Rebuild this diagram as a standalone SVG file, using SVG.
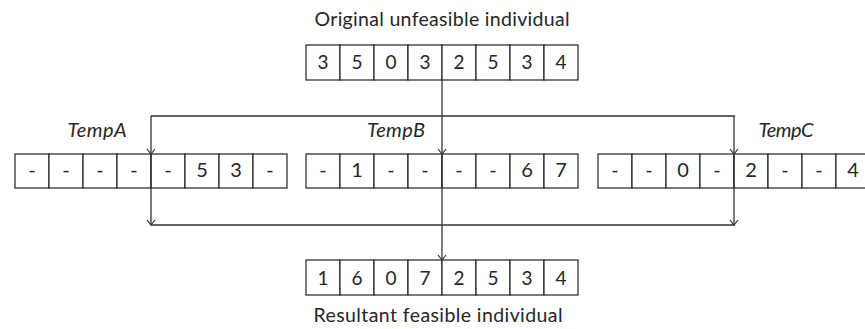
<svg xmlns="http://www.w3.org/2000/svg" width="865" height="329" viewBox="0 0 865 329">
<style>
.cell{fill:#fff;stroke:#222;stroke-width:1.2}
.d{font-family:Lato,"Open Sans",sans-serif;font-size:19px;fill:#262626;text-anchor:middle}
.dt{font-family:Lato,"Open Sans",sans-serif;font-size:20px;fill:#262626;text-anchor:middle}
.lbl{font-family:Lato,"Open Sans",sans-serif;font-size:19.5px;fill:#262626;text-anchor:middle}
.it{font-family:Lato,"Open Sans",sans-serif;font-size:20px;font-style:italic;fill:#262626;text-anchor:middle}
.con{fill:none;stroke:#333;stroke-width:1.3}
</style>
<defs>
<marker id="ah" markerUnits="userSpaceOnUse" markerWidth="8" markerHeight="12" refX="6" refY="5" orient="auto" viewBox="0 0 8 10">
<path d="M1,1 L6,5 L1,9" fill="none" stroke="#333" stroke-width="1.2"/>
</marker>
</defs>
<rect width="865" height="329" fill="#fff"/>
<text class="lbl" x="442" y="26" textLength="255">Original unfeasible individual</text>
<g id="original">
<rect class="cell" x="306" y="45" width="34" height="35"/><rect class="cell" x="340" y="45" width="34" height="35"/><rect class="cell" x="374" y="45" width="34" height="35"/><rect class="cell" x="408" y="45" width="34" height="35"/><rect class="cell" x="442" y="45" width="34" height="35"/><rect class="cell" x="476" y="45" width="34" height="35"/><rect class="cell" x="510" y="45" width="34" height="35"/><rect class="cell" x="544" y="45" width="34" height="35"/>
<text class="d" x="323" y="69">3</text><text class="d" x="357" y="69">5</text><text class="d" x="391" y="69">0</text><text class="d" x="425" y="69">3</text><text class="d" x="459" y="69">2</text><text class="d" x="493" y="69">5</text><text class="d" x="527" y="69">3</text><text class="d" x="561" y="69">4</text>
</g>
<g id="tempA">
<text class="it" x="97" y="137" textLength="59">TempA</text>
<rect class="cell" x="15" y="154" width="34" height="34"/><rect class="cell" x="49" y="154" width="34" height="34"/><rect class="cell" x="83" y="154" width="34" height="34"/><rect class="cell" x="117" y="154" width="34" height="34"/><rect class="cell" x="151" y="154" width="34" height="34"/><rect class="cell" x="185" y="154" width="34" height="34"/><rect class="cell" x="219" y="154" width="34" height="34"/><rect class="cell" x="253" y="154" width="34" height="34"/>
<text class="dt" x="32" y="177">-</text><text class="dt" x="66" y="177">-</text><text class="dt" x="100" y="177">-</text><text class="dt" x="134" y="177">-</text><text class="dt" x="168" y="177">-</text><text class="dt" x="202" y="177">5</text><text class="dt" x="236" y="177">3</text><text class="dt" x="270" y="177">-</text>
</g>
<g id="tempB">
<text class="it" x="396" y="137" textLength="58">TempB</text>
<rect class="cell" x="306" y="154" width="34" height="34"/><rect class="cell" x="340" y="154" width="34" height="34"/><rect class="cell" x="374" y="154" width="34" height="34"/><rect class="cell" x="408" y="154" width="34" height="34"/><rect class="cell" x="442" y="154" width="34" height="34"/><rect class="cell" x="476" y="154" width="34" height="34"/><rect class="cell" x="510" y="154" width="34" height="34"/><rect class="cell" x="544" y="154" width="34" height="34"/>
<text class="dt" x="323" y="177">-</text><text class="dt" x="357" y="177">1</text><text class="dt" x="391" y="177">-</text><text class="dt" x="425" y="177">-</text><text class="dt" x="459" y="177">-</text><text class="dt" x="493" y="177">-</text><text class="dt" x="527" y="177">6</text><text class="dt" x="561" y="177">7</text>
</g>
<g id="tempC">
<text class="it" x="786" y="137" textLength="55">TempC</text>
<rect class="cell" x="598" y="154" width="34" height="34"/><rect class="cell" x="632" y="154" width="34" height="34"/><rect class="cell" x="666" y="154" width="34" height="34"/><rect class="cell" x="700" y="154" width="34" height="34"/><rect class="cell" x="734" y="154" width="34" height="34"/><rect class="cell" x="768" y="154" width="34" height="34"/><rect class="cell" x="802" y="154" width="34" height="34"/><rect class="cell" x="836" y="154" width="34" height="34"/>
<text class="dt" x="615" y="177">-</text><text class="dt" x="649" y="177">-</text><text class="dt" x="683" y="177">0</text><text class="dt" x="717" y="177">-</text><text class="dt" x="751" y="177">2</text><text class="dt" x="785" y="177">-</text><text class="dt" x="819" y="177">-</text><text class="dt" x="853" y="177">4</text>
</g>
<g id="result">
<rect class="cell" x="306" y="260" width="34" height="35"/><rect class="cell" x="340" y="260" width="34" height="35"/><rect class="cell" x="374" y="260" width="34" height="35"/><rect class="cell" x="408" y="260" width="34" height="35"/><rect class="cell" x="442" y="260" width="34" height="35"/><rect class="cell" x="476" y="260" width="34" height="35"/><rect class="cell" x="510" y="260" width="34" height="35"/><rect class="cell" x="544" y="260" width="34" height="35"/>
<text class="d" x="323" y="285">1</text><text class="d" x="357" y="285">6</text><text class="d" x="391" y="285">0</text><text class="d" x="425" y="285">7</text><text class="d" x="459" y="285">2</text><text class="d" x="493" y="285">5</text><text class="d" x="527" y="285">3</text><text class="d" x="561" y="285">4</text>
<text class="lbl" x="438" y="322" textLength="249">Resultant feasible individual</text>
</g>
<g id="connectors">
<path class="con" d="M151,116 H735"/>
<path class="con" d="M151,225 H735"/>
<path class="con" d="M442,80 V154" marker-end="url(#ah)"/>
<path class="con" d="M442,154 V260" marker-end="url(#ah)"/>
<path class="con" d="M151,116 V154" marker-end="url(#ah)"/>
<path class="con" d="M151,154 V225" marker-end="url(#ah)"/>
<path class="con" d="M734,116 V154" marker-end="url(#ah)"/>
<path class="con" d="M734,154 V225" marker-end="url(#ah)"/>
</g>
</svg>
